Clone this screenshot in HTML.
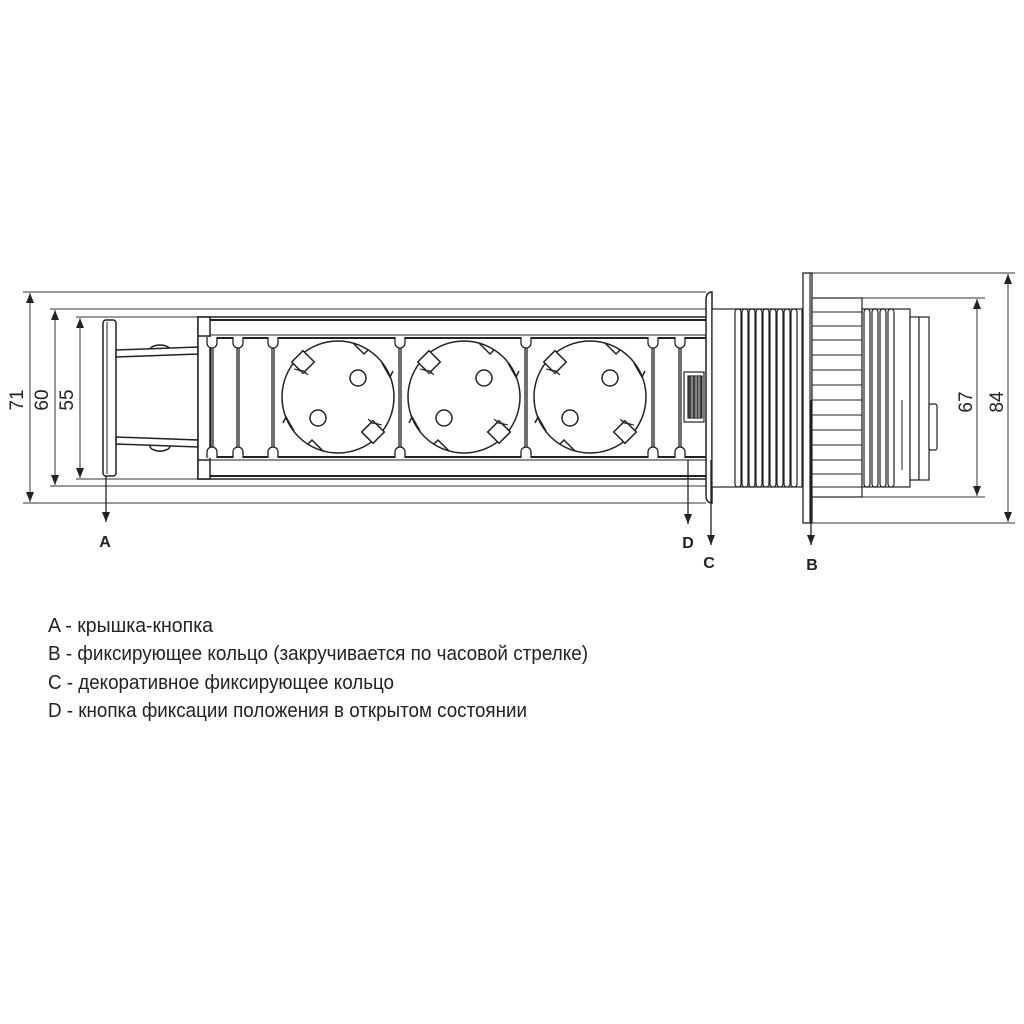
<!DOCTYPE html>
<html><head><meta charset="utf-8"><style>
html,body{margin:0;padding:0;background:#fff}
svg{display:block}
text{font-family:"Liberation Sans Narrow","Liberation Sans",sans-serif;fill:#222}
</style></head><body>
<svg width="1024" height="1024" viewBox="0 0 1024 1024" xmlns="http://www.w3.org/2000/svg">
<defs>
<marker id="ar" markerWidth="10" markerHeight="8" refX="10" refY="4" orient="auto-start-reverse" markerUnits="userSpaceOnUse"><path d="M0,0 L10,4 L0,8 Z" fill="#222"/></marker>
<g id="sock" stroke="#222" fill="#fff" stroke-width="1.5">
<circle cx="0" cy="0" r="56"/>
<circle cx="20" cy="-19" r="8"/>
<circle cx="-20" cy="21" r="8"/>
<rect x="-8" y="-8" width="16" height="16" transform="translate(-35,-35) rotate(45)"/>
<rect x="-8" y="-8" width="16" height="16" transform="translate(35,35) rotate(45)"/>
<path d="M-44,-28 L-34,-26 L-30,-22" fill="#555" stroke-width="1"/>
<path d="M44,28 L34,26 L30,22" fill="#555" stroke-width="1"/>
<path d="M15,-54 L26,-43 L30,-47" fill="none"/>
<path d="M44,-34 L52,-20 L55,-26" fill="none"/>
<path d="M-15,54 L-26,43 L-30,47" fill="none"/>
<path d="M-44,34 L-52,20 L-55,26" fill="none"/>
</g>
<g id="div" stroke="#222" fill="#fff" stroke-width="1.3">
<path d="M-5,337 v6 a5,5 0 0 0 5,5 a5,5 0 0 0 5,-5 v-6"/>
<path d="M-5,458 v-6 a5,5 0 0 1 5,-5 a5,5 0 0 1 5,5 v6"/>
<line x1="-1" y1="348" x2="-1" y2="447"/><line x1="1" y1="348" x2="1" y2="447"/>
</g>
</defs>
<g stroke="#333" stroke-width="1" fill="none">
<line x1="23" y1="292" x2="706" y2="292"/>
<line x1="23" y1="503" x2="706" y2="503"/>
<line x1="50" y1="309" x2="712" y2="309"/>
<line x1="50" y1="486" x2="712" y2="486"/>
<line x1="76" y1="317" x2="200" y2="317"/>
<line x1="76" y1="479" x2="200" y2="479"/>
<line x1="812" y1="273" x2="1015" y2="273"/>
<line x1="812" y1="523" x2="1015" y2="523"/>
<line x1="862" y1="298" x2="985" y2="298"/>
<line x1="862" y1="497" x2="985" y2="497"/>
<line x1="30" y1="293" x2="30" y2="502" marker-start="url(#ar)" marker-end="url(#ar)"/>
<line x1="55" y1="310" x2="55" y2="485" marker-start="url(#ar)" marker-end="url(#ar)"/>
<line x1="80" y1="318" x2="80" y2="478" marker-start="url(#ar)" marker-end="url(#ar)"/>
<line x1="1008" y1="274" x2="1008" y2="522" marker-start="url(#ar)" marker-end="url(#ar)"/>
<line x1="977" y1="299" x2="977" y2="496" marker-start="url(#ar)" marker-end="url(#ar)"/>
</g>
<g font-size="19" text-anchor="middle">
<text transform="translate(23,400) rotate(-90)">71</text>
<text transform="translate(48,400) rotate(-90)">60</text>
<text transform="translate(73,400) rotate(-90)">55</text>
<text transform="translate(972,402) rotate(-90)">67</text>
<text transform="translate(1003,402) rotate(-90)">84</text>
</g>
<g stroke="#222" stroke-width="1.5" fill="#fff">
<rect x="103" y="320" width="13" height="156" rx="3"/>
<line x1="107" y1="322" x2="107" y2="474" stroke-width="1"/>
<ellipse cx="160" cy="350" rx="10" ry="5"/>
<ellipse cx="160" cy="446" rx="10" ry="5"/>
<path d="M116,350 L198,347 L198,354 L116,357 Z"/>
<path d="M116,437 L198,440 L198,447 L116,444 Z"/>
<rect x="198" y="317" width="510" height="162"/>
<rect x="198" y="317" width="12" height="162"/>
<line x1="198" y1="336" x2="210" y2="336"/>
<line x1="198" y1="460" x2="210" y2="460"/>
<line x1="210" y1="320" x2="706" y2="320" stroke-width="2"/>
<line x1="210" y1="335" x2="706" y2="335" stroke-width="1"/>
<line x1="210" y1="338" x2="706" y2="338" stroke-width="2"/>
<line x1="210" y1="457" x2="706" y2="457" stroke-width="2"/>
<line x1="210" y1="460" x2="706" y2="460" stroke-width="1"/>
<line x1="210" y1="476" x2="706" y2="476" stroke-width="2"/>
</g>
<use href="#div" x="212"/>
<use href="#div" x="238"/>
<use href="#div" x="273"/>
<use href="#div" x="400"/>
<use href="#div" x="526"/>
<use href="#div" x="653"/>
<use href="#div" x="680"/>
<use href="#sock" transform="translate(338,397)"/>
<use href="#sock" transform="translate(464,397)"/>
<use href="#sock" transform="translate(590,397)"/>
<g stroke="#222" stroke-width="1.2" fill="#fff">
<rect x="684" y="372" width="20" height="50"/>
<rect x="688" y="376" width="14" height="42" fill="#444"/>
<line x1="692" y1="376" x2="692" y2="418" stroke="#aaa"/>
<line x1="696" y1="376" x2="696" y2="418" stroke="#aaa"/>
<line x1="699" y1="376" x2="699" y2="418" stroke="#aaa"/>
<path d="M706,300 Q706,292 712,292 L712,503 Q706,503 706,495 Z" stroke-width="1.5"/>
<rect x="712" y="309" width="90" height="178"/>
<g stroke-width="1.2">
<rect x="735" y="309" width="6" height="178" rx="3"/>
<rect x="742" y="309" width="6" height="178" rx="3"/>
<rect x="749" y="309" width="6" height="178" rx="3"/>
<rect x="756" y="309" width="6" height="178" rx="3"/>
<rect x="763" y="309" width="6" height="178" rx="3"/>
<rect x="770" y="309" width="6" height="178" rx="3"/>
<rect x="777" y="309" width="6" height="178" rx="3"/>
<rect x="784" y="309" width="6" height="178" rx="3"/>
<rect x="791" y="309" width="6" height="178" rx="3"/>
</g>
<rect x="803" y="273" width="9" height="250" stroke-width="1.3"/>
<line x1="810" y1="273" x2="810" y2="523"/>
<rect x="812" y="298" width="50" height="199"/>
<g stroke-width="1">
<line x1="812" y1="312" x2="862" y2="312"/><line x1="812" y1="326" x2="862" y2="326"/>
<line x1="812" y1="340" x2="862" y2="340"/><line x1="812" y1="355" x2="862" y2="355"/>
<line x1="812" y1="370" x2="862" y2="370"/><line x1="812" y1="385" x2="862" y2="385"/>
<line x1="812" y1="400" x2="862" y2="400"/><line x1="812" y1="415" x2="862" y2="415"/>
<line x1="812" y1="430" x2="862" y2="430"/><line x1="812" y1="445" x2="862" y2="445"/>
<line x1="812" y1="460" x2="862" y2="460"/><line x1="812" y1="474" x2="862" y2="474"/>
<line x1="812" y1="487" x2="862" y2="487"/>
</g>
<rect x="862" y="309" width="48" height="178"/>
<g stroke-width="1.2">
<rect x="864" y="309" width="6" height="178" rx="3"/>
<rect x="872" y="309" width="6" height="178" rx="3"/>
<rect x="880" y="309" width="6" height="178" rx="3"/>
<rect x="888" y="309" width="6" height="178" rx="3"/>
</g>
<line x1="902" y1="400" x2="902" y2="470" stroke-width="1"/>
<rect x="910" y="317" width="9" height="163"/>
<rect x="919" y="317" width="10" height="163"/>
<rect x="929" y="404" width="8" height="46" rx="2"/>
</g>
<g stroke="#222" stroke-width="1.3" fill="none">
<line x1="106" y1="476" x2="106" y2="522" marker-end="url(#ar)"/>
<line x1="688" y1="460" x2="688" y2="524" marker-end="url(#ar)"/>
<line x1="711" y1="460" x2="711" y2="545" marker-end="url(#ar)"/>
<line x1="811" y1="400" x2="811" y2="545" marker-end="url(#ar)"/>
</g>
<g font-size="16" font-weight="bold" text-anchor="middle">
<text x="105" y="547">A</text>
<text x="688" y="548">D</text>
<text x="709" y="568">C</text>
<text x="812" y="570">B</text>
</g>
<g font-size="20">
<text x="48" y="632" textLength="165" lengthAdjust="spacingAndGlyphs">A - крышка-кнопка</text>
<text x="48" y="660" textLength="540" lengthAdjust="spacingAndGlyphs">B - фиксирующее кольцо (закручивается по часовой стрелке)</text>
<text x="48" y="689" textLength="346" lengthAdjust="spacingAndGlyphs">C - декоративное фиксирующее кольцо</text>
<text x="48" y="717" textLength="479" lengthAdjust="spacingAndGlyphs">D - кнопка фиксации положения в открытом состоянии</text>
</g>
</svg>
</body></html>
